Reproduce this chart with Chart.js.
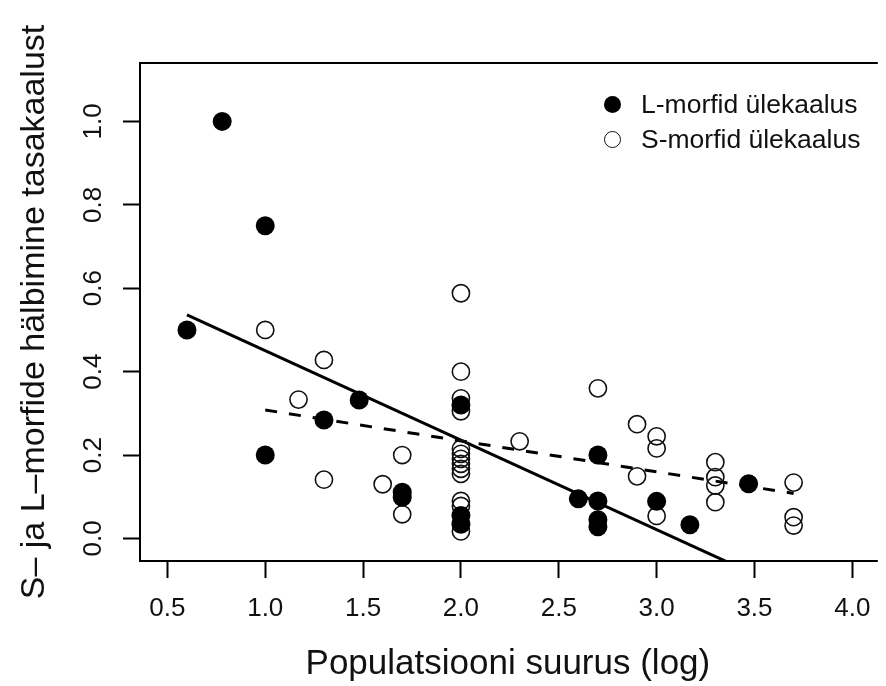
<!DOCTYPE html>
<html>
<head>
<meta charset="utf-8">
<script src="https://cdn.jsdelivr.net/npm/chart.js@4.4.1/dist/chart.umd.min.js"></script>
<style>
    html, body { margin: 0; padding: 0; background: #fff; overflow: hidden; }
    #wrap { position: relative; width: 886px; height: 686px; }
    #legend {
        position: absolute; left: 604px; top: 87px;
        font-family: "Liberation Sans", Arial, sans-serif; font-size: 26.5px; color: #111;
    }
    .item { display: flex; align-items: center; height: 35px; line-height: 35px; white-space: nowrap; }
    .mark { width: 17px; height: 17px; border-radius: 50%; box-sizing: border-box; margin-right: 20px; }
</style>
</head>
<body>
<div id="wrap">
    <canvas id="chart1" width="886" height="686"></canvas>
    <div id="legend"></div>
</div>
<script>
// L-morfid ülekaalus (täidetud ringid)
const lMorfX = [0.78, 1.0, 0.6, 1.0, 1.3, 1.48, 1.7, 1.7, 2.0, 2.0, 2.0, 2.6, 2.7, 2.7, 2.7, 2.7, 3.0, 3.17, 3.47];
const lMorfY = [1.0, 0.75, 0.5, 0.2, 0.284, 0.332, 0.111, 0.099, 0.32, 0.055, 0.034, 0.095, 0.2, 0.09, 0.045, 0.028, 0.089, 0.033, 0.131];

// S-morfid ülekaalus (tühjad ringid)
const sMorfX = [1.0, 1.17, 1.3, 1.3, 1.6, 1.7, 1.7,
    2.0, 2.0, 2.0, 2.0, 2.0, 2.0, 2.0, 2.0, 2.0, 2.0, 2.0, 2.0, 2.0,
    2.3, 2.7, 2.9, 2.9, 3.0, 3.0, 3.0, 3.3, 3.3, 3.3, 3.3, 3.7, 3.7, 3.7];
const sMorfY = [0.5, 0.333, 0.428, 0.141, 0.13, 0.2, 0.058,
    0.588, 0.4, 0.336, 0.305, 0.215, 0.203, 0.191, 0.179, 0.167, 0.155, 0.09, 0.078, 0.017,
    0.233, 0.36, 0.274, 0.149, 0.245, 0.216, 0.054, 0.183, 0.147, 0.127, 0.087, 0.134, 0.051, 0.031];

// regressioonijooned (otspunktid)
const fitLX = [0.6, 3.7];
const fitLY = [0.536, -0.129];
const fitSX = [1.0, 3.7];
const fitSY = [0.308, 0.108];

const xTicks = [0.5, 1.0, 1.5, 2.0, 2.5, 3.0, 3.5, 4.0];
const yTicks = [0.0, 0.2, 0.4, 0.6, 0.8, 1.0];

const fontFamily = '"Liberation Sans", Arial, sans-serif';

function toPoints(xs, ys) {
    return xs.map((x, i) => ({ x: x, y: ys[i] }));
}

// R-stiilis raam (parem serv jääb pildist välja)
const boxPlugin = {
    id: 'rBox',
    beforeDatasetsDraw(chart) {
        const { ctx, chartArea: a } = chart;
        ctx.save();
        ctx.strokeStyle = '#000';
        ctx.lineWidth = 2;
        ctx.beginPath();
        ctx.moveTo(a.right + 2, a.top);
        ctx.lineTo(a.left, a.top);
        ctx.lineTo(a.left, a.bottom);
        ctx.lineTo(a.right + 2, a.bottom);
        ctx.stroke();
        ctx.restore();
    }
};

const chart1 = new Chart(document.getElementById('chart1'), {
    type: 'scatter',
    data: {
        datasets: [
            {
                label: 'L-morfid ülekaalus',
                data: toPoints(lMorfX, lMorfY),
                pointRadius: 9.5,
                pointBackgroundColor: '#000',
                pointBorderColor: '#000',
                pointBorderWidth: 0
            },
            {
                label: 'S-morfid ülekaalus',
                data: toPoints(sMorfX, sMorfY),
                pointRadius: 8.6,
                pointBackgroundColor: 'rgba(0,0,0,0)',
                pointBorderColor: '#111',
                pointBorderWidth: 1.6
            },
            {
                type: 'line',
                label: '',
                data: toPoints(fitLX, fitLY),
                borderColor: '#000',
                borderWidth: 3,
                pointRadius: 0,
                fill: false
            },
            {
                type: 'line',
                label: '',
                data: toPoints(fitSX, fitSY),
                borderColor: '#000',
                borderWidth: 3,
                borderDash: [12, 12],
                pointRadius: 0,
                fill: false
            }
        ]
    },
    options: {
        responsive: false,
        animation: false,
        layout: { padding: { top: 63, right: 0, left: 0, bottom: 0 } },
        plugins: {
            legend: { display: false },
            tooltip: { enabled: false }
        },
        scales: {
            x: {
                type: 'linear',
                min: 0.36,
                max: 4.12,
                afterBuildTicks: (scale) => { scale.ticks = xTicks.map(v => ({ value: v })); },
                afterFit: (scale) => { scale.height = 125; },
                grid: { drawOnChartArea: false, drawTicks: true, tickLength: 17, tickWidth: 2, tickColor: '#000' },
                border: { display: false },
                ticks: {
                    color: '#111',
                    font: { family: fontFamily, size: 26 },
                    padding: 15,
                    maxRotation: 0,
                    autoSkip: false,
                    callback: (v) => Number(v).toFixed(1)
                },
                title: {
                    display: true,
                    text: 'Populatsiooni suurus (log)',
                    color: '#111',
                    font: { family: fontFamily, size: 35 },
                    padding: { top: 0, bottom: 1 }
                }
            },
            y: {
                type: 'linear',
                min: -0.054,
                max: 1.14,
                afterBuildTicks: (scale) => { scale.ticks = yTicks.map(v => ({ value: v })); },
                afterFit: (scale) => { scale.width = 140; },
                grid: { drawOnChartArea: false, drawTicks: true, tickLength: 17, tickWidth: 2, tickColor: '#000' },
                border: { display: false },
                ticks: {
                    color: '#111',
                    font: { family: fontFamily, size: 26 },
                    padding: 11,
                    minRotation: 90,
                    maxRotation: 90,
                    crossAlign: 'center',
                    autoSkip: false,
                    callback: (v) => Number(v).toFixed(1)
                },
                title: {
                    display: true,
                    text: 'S– ja L–morfide hälbimine tasakaalust',
                    color: '#111',
                    font: { family: fontFamily, size: 34 },
                    padding: { top: 14, bottom: 0 }
                }
            }
        }
    },
    plugins: [boxPlugin]
});

// legend HTML-ina, andmeseeriate järgi
const legendEl = document.getElementById('legend');
chart1.data.datasets.filter(d => d.label).forEach(d => {
    const row = document.createElement('div');
    row.className = 'item';
    const mark = document.createElement('span');
    mark.className = 'mark';
    if (d.pointBorderWidth > 0) {
        mark.style.border = '1.5px solid #111';
    } else {
        mark.style.background = '#000';
    }
    row.appendChild(mark);
    row.appendChild(document.createTextNode(d.label));
    legendEl.appendChild(row);
});
</script>
</body>
</html>
